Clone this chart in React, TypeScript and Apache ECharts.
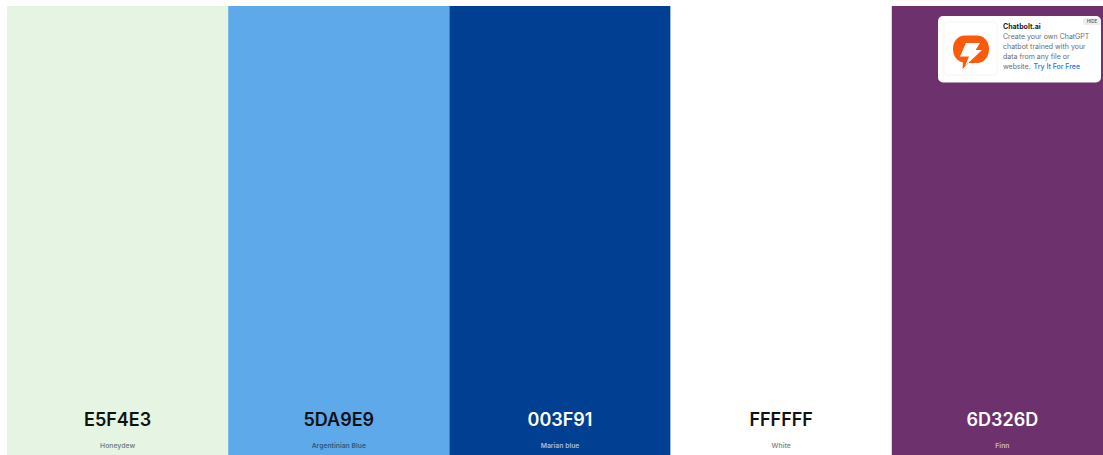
import React, { useEffect, useRef } from "react";
import * as echarts from "echarts";

const hexCodes = ["E5F4E3", "5DA9E9", "003F91", "FFFFFF", "6D326D"];
const colorNames = ["Honeydew", "Argentinian Blue", "Marian blue", "White", "Finn"];
const stripeValues = [1, 1, 1, 1, 1];
const adLines = [
  "Create your own ChatGPT",
  "chatbot trained with your",
  "data from any file or",
];

const FONT = "Inter, 'Noto Sans', sans-serif";

const isDark = (hex: string) => {
  const r = parseInt(hex.slice(0, 2), 16);
  const g = parseInt(hex.slice(2, 4), 16);
  const b = parseInt(hex.slice(4, 6), 16);
  return 0.299 * r + 0.587 * g + 0.114 * b < 110;
};

const boltBubble =
  "M965 35.5 L977 35.5 C984 35.5 989 41 989 49 C989 57 984 63 977 63 L968.5 63 L962.5 69 L963 62.5 C957 61 953 56 953 49 C953 41 958 35.5 965 35.5 Z";
const boltShape =
  "M966 43 L980 43 L975.5 50 L982 50 L965 66 L969 56.5 L960 56.5 Z";

export default function App() {
  const ref = useRef<HTMLDivElement>(null);

  useEffect(() => {
    document.body.style.margin = "0";
    document.body.style.background = "#ffffff";
    if (!ref.current) return;
    echarts.graphic.registerShape("adBubble", echarts.graphic.extendPath(boltBubble, {}) as any);
    echarts.graphic.registerShape("adBolt", echarts.graphic.extendPath(boltShape, {}) as any);
    const chart = echarts.init(ref.current, undefined, { renderer: "svg" });

    const adText = adLines.map((line, i) => ({
      type: "text",
      z: 12,
      x: 1003,
      y: 36 + i * 10,
      style: { text: line, fill: "#6b6b6b", font: `400 7px ${FONT}`, textVerticalAlign: "middle" },
    }));

    chart.setOption({
      animation: false,
      backgroundColor: "#ffffff",
      grid: { left: 7, top: 6, width: 1106, height: 449, containLabel: false },
      xAxis: { type: "category", data: hexCodes, show: false },
      yAxis: { type: "value", min: 0, max: 1, show: false },
      series: [
        {
          type: "bar",
          barWidth: "100%",
          silent: true,
          data: stripeValues.map((v, i) => ({
            value: v,
            itemStyle: { color: "#" + hexCodes[i] },
            label: {
              show: true,
              position: "insideBottom",
              distance: 0,
              formatter: `{hex|${hexCodes[i]}}\n{name|${colorNames[i]}}`,
              rich: {
                hex: {
                  fontFamily: FONT,
                  fontSize: 18,
                  fontWeight: 600,
                  lineHeight: 32,
                  color: isDark(hexCodes[i]) ? "#ffffff" : "#111111",
                },
                name: {
                  fontFamily: FONT,
                  fontSize: 6.8,
                  fontWeight: 600,
                  lineHeight: 20,
                  color: isDark(hexCodes[i]) ? "rgba(255,255,255,0.65)" : "rgba(0,0,0,0.5)",
                },
              },
            },
          })),
        },
      ],
      graphic: {
        elements: [
          {
            type: "rect",
            z: 10,
            shape: { x: 938, y: 16, width: 163, height: 66.5, r: 5 },
            style: { fill: "#ffffff" },
          },
          {
            type: "rect",
            z: 11,
            shape: { x: 944, y: 22, width: 53, height: 53, r: 3 },
            style: { fill: "#ffffff", stroke: "#f5f5f5", lineWidth: 1 },
          },
          { type: "adBubble", z: 12, style: { fill: "#fb5a0c" } },
          { type: "adBolt", z: 13, style: { fill: "#ffffff" } },
          {
            type: "rect",
            z: 11,
            shape: { x: 1083, y: 18, width: 18, height: 7, r: [0, 3, 0, 2] },
            style: { fill: "#eeeeee" },
          },
          {
            type: "text",
            z: 12,
            x: 1092,
            y: 21.5,
            style: {
              text: "HIDE",
              fill: "#555555",
              font: `500 4.5px ${FONT}`,
              textAlign: "center",
              textVerticalAlign: "middle",
            },
          },
          {
            type: "text",
            z: 12,
            x: 1003,
            y: 26.5,
            style: { text: "Chatbolt.ai", fill: "#222222", font: `700 7px ${FONT}`, textVerticalAlign: "middle" },
          },
          ...adText,
          {
            type: "text",
            z: 12,
            x: 1003,
            y: 66,
            style: { text: "website.", fill: "#6b6b6b", font: `400 7px ${FONT}`, textVerticalAlign: "middle" },
          },
          {
            type: "text",
            z: 12,
            x: 1033.5,
            y: 66,
            style: { text: "Try It For Free", fill: "#2a72e5", font: `500 7px ${FONT}`, textVerticalAlign: "middle" },
          },
        ],
      },
    });
    return () => chart.dispose();
  }, []);

  return (
    <div style={{ position: "absolute", left: 0, top: 0, width: 1103, height: 455, overflow: "hidden" }}>
      <div ref={ref} style={{ width: 1120, height: 455 }} />
    </div>
  );
}
